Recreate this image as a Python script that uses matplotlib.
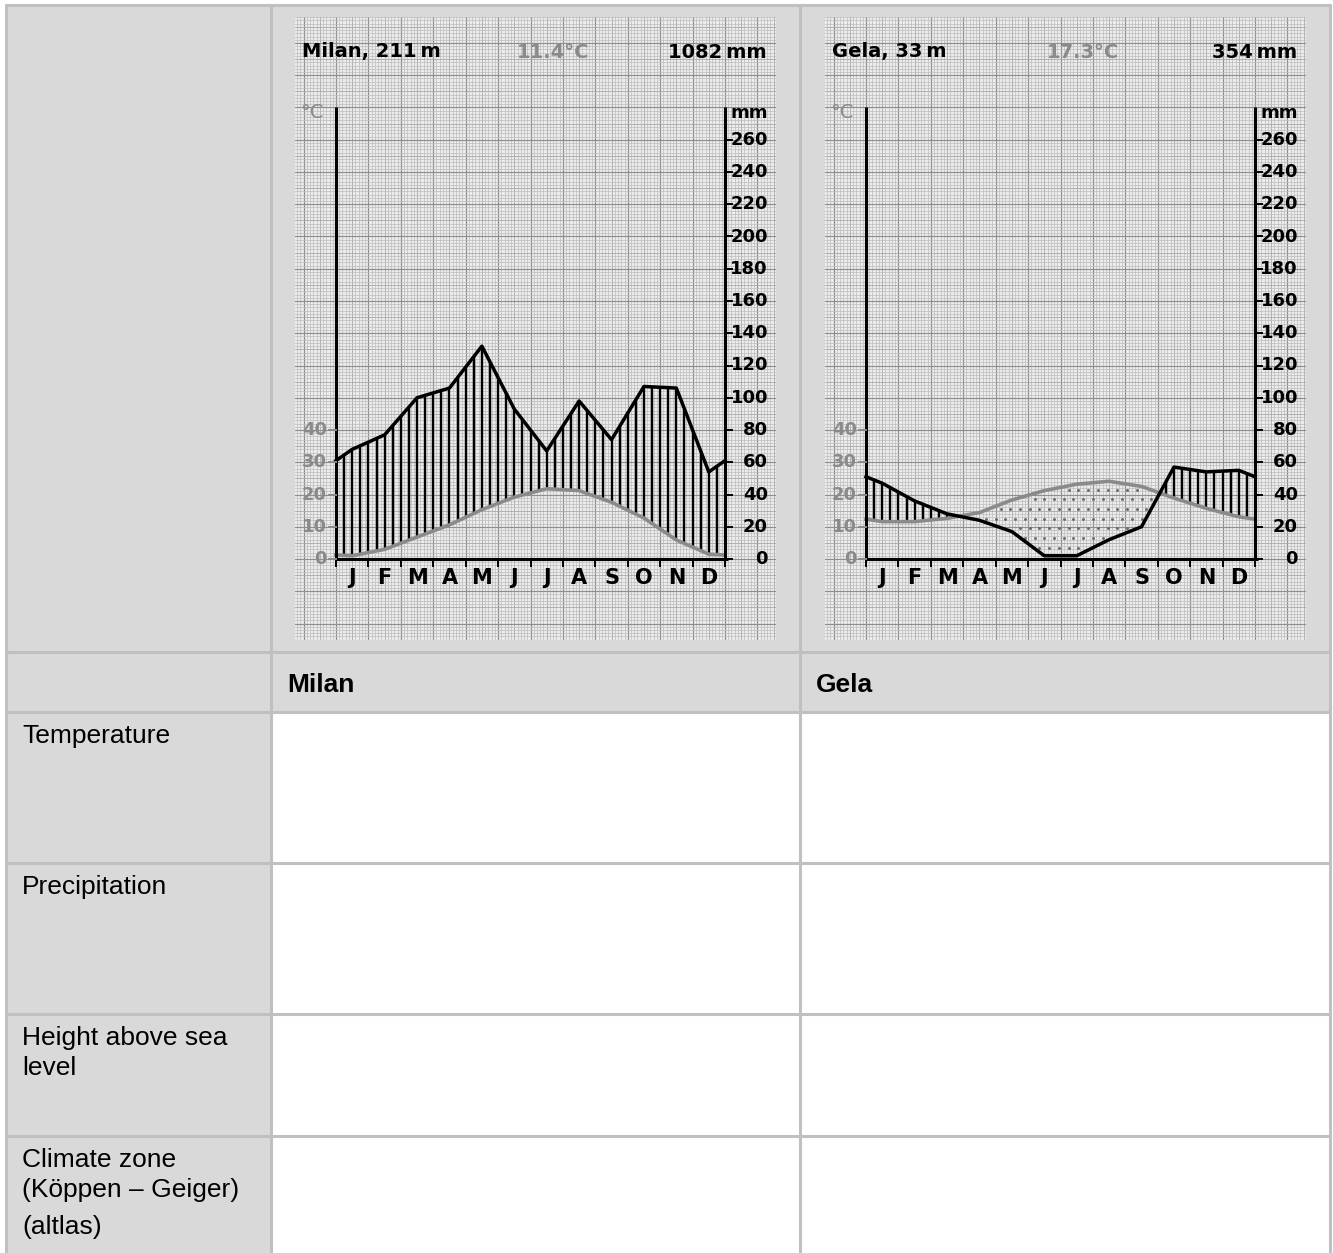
import numpy as np
import matplotlib
matplotlib.use("Agg")
import matplotlib.pyplot as plt
from matplotlib.patches import Rectangle

# figure size in pixels
W, H = 1333, 1253

# climate data
months = ["J", "F", "M", "A", "M", "J", "J", "A", "S", "O", "N", "D"]
milan_temp = [1.0, 3.0, 6.8, 10.6, 15.3, 19.2, 21.8, 21.2, 17.6, 12.7, 5.9, 1.5]
milan_prec = [68, 77, 100, 106, 132, 93, 67, 98, 74, 107, 106, 54]
gela_temp = [11.6, 11.6, 12.6, 14.4, 18.3, 21.2, 23.2, 24.1, 22.5, 18.9, 15.7, 13.1]
gela_prec = [47, 36, 28, 24, 17, 2, 2, 12, 20, 57, 54, 55]

station_titles = ["Milan, 211\u2009m", "Gela, 33\u2009m"]
station_temps = ["11.4\u00b0C", "17.3\u00b0C"]
station_precs = ["1082\u2009mm", "354\u2009mm"]

temp_ticks = [0, 10, 20, 30, 40]
prec_ticks = list(range(0, 261, 20))

col_names = ["Milan", "Gela"]
row_names = [["Temperature"], ["Precipitation"], ["Height above sea", "level"],
             ["Climate zone", "(K\u00f6ppen \u2013 Geiger)", "(altlas)"]]

# layout (pixels)
col_x = [6, 271, 800, 1330]
row_y = [5, 652, 712, 863, 1014, 1136]
GRAY = "#d9d9d9"
LINE = "#c0c0c0"
TGRAY = "#8a8a8a"

AX_LEFT = [336, 866]
MW = (725 - 336) / 12.0    # px per month
PPM = 1.6125               # px per mm
ZERO = 559
PAPER_TOP, PAPER_BOT = 17, 640

CHART_FONT = ["DejaVu Sans"]
TABLE_FONT = ["Liberation Sans", "DejaVu Sans"]

fig = plt.figure(figsize=(W / 100, H / 100), dpi=100)
fig.patch.set_facecolor("white")

# ---- table background ----
bg = fig.add_axes([0, 0, 1, 1])
bg.set_xlim(0, W)
bg.set_ylim(H, 0)
bg.axis("off")
bg.add_patch(Rectangle((col_x[0], row_y[0]), col_x[-1] - col_x[0], row_y[2] - row_y[0],
                       facecolor=GRAY, edgecolor="none"))
bg.add_patch(Rectangle((col_x[0], row_y[2]), col_x[1] - col_x[0], H - row_y[2] + 5,
                       facecolor=GRAY, edgecolor="none"))
for y in row_y:
    bg.plot([col_x[0] - 1, col_x[-1] + 1], [y, y], color=LINE, lw=2.2, solid_capstyle="butt")
for x in col_x:
    bg.plot([x, x], [row_y[0] - 1, H + 5], color=LINE, lw=2.2, solid_capstyle="butt")

for i, name in enumerate(col_names):
    bg.text(col_x[i + 1] + 16, 692, name, fontsize=19, fontweight="bold",
            family=TABLE_FONT, va="baseline", ha="left")

for r, lines in enumerate(row_names):
    base = row_y[r + 2] + 31
    for k, txt in enumerate(lines):
        yy = base + k * 30
        if k == 2:
            yy += 7
        bg.text(22, yy, txt, fontsize=19, family=TABLE_FONT, va="baseline", ha="left")


def cycle(vals):
    v = np.asarray(vals, float)
    edge = (v[0] + v[-1]) / 2
    x = np.concatenate([[0], np.arange(12) + 0.5, [12]])
    y = np.concatenate([[edge], v, [edge]])
    return x, y


def paper_style(k):
    if k % 10 == 0:
        return "#8e8e8e", 0.85
    if k % 5 == 0:
        return "#a8a8a8", 0.6
    return "#bcbcbc", 0.5


def draw_panel(ax_left, temp, prec, title, tmean, psum):
    p_left = ax_left - 41
    p_w = 481
    ax = fig.add_axes([p_left / W, 1 - PAPER_BOT / H, p_w / W, (PAPER_BOT - PAPER_TOP) / H])
    x0 = (p_left - ax_left) / MW
    x1 = (p_left + p_w - ax_left) / MW
    y0 = (ZERO - PAPER_BOT) / PPM
    y1 = (ZERO - PAPER_TOP) / PPM
    ax.set_xlim(x0, x1)
    ax.set_ylim(y0, y1)
    ax.set_facecolor("#ececec")
    for s in ax.spines.values():
        s.set_visible(False)
    ax.set_xticks([])
    ax.set_yticks([])

    # graph paper
    for k in range(int(np.ceil(x0 * 10)), int(np.floor(x1 * 10)) + 1):
        c, lw = paper_style(k)
        ax.axvline(k / 10, color=c, lw=lw, zorder=0.5)
    for k in range(int(np.ceil(y0 / 2)), int(np.floor(y1 / 2)) + 1):
        c, lw = paper_style(k)
        ax.axhline(k * 2, color=c, lw=lw, zorder=0.5)

    xt, yt = cycle(temp)
    yt = yt * 2
    xp, yp = cycle(prec)

    # vertical hatch where humid
    hx = np.arange(0.25, 12, 0.25)
    ht = np.interp(hx, xt, yt)
    hp = np.interp(hx, xp, yp)
    wet = hp > ht + 1
    ax.vlines(hx[wet], ht[wet], hp[wet], color="black", lw=1.7, zorder=2)

    # dots where arid
    dots_x, dots_y = [], []
    for j, yy in enumerate(np.arange(1, 60, 6.0)):
        off = 0.15 if j % 2 else 0.0
        for xx in np.arange(0.1 + off, 12, 0.3):
            tv = np.interp(xx, xt, yt)
            pv = np.interp(xx, xp, yp)
            if pv + 2 < yy < tv - 2:
                dots_x.append(xx)
                dots_y.append(yy)
    if dots_x:
        ax.scatter(dots_x, dots_y, s=4.5, color="#6a6a6a", linewidths=0, zorder=2)

    ax.plot(xt, yt, color=TGRAY, lw=2.6, zorder=3, solid_joinstyle="round")
    ax.plot(xp, yp, color="black", lw=2.5, zorder=4, solid_joinstyle="round")

    # axes frame
    top = 280
    ax.plot([0, 0], [0, top], color="black", lw=2.2, zorder=5, solid_capstyle="butt")
    ax.plot([12, 12], [0, top], color="black", lw=2.2, zorder=5, solid_capstyle="butt")
    ax.plot([0, 12.1], [0, 0], color="black", lw=2.2, zorder=5, solid_capstyle="butt")

    dash = 7 / MW
    for m in range(13):
        ax.plot([m, m], [0, -7 / PPM], color="black", lw=1.4, zorder=5)
    for i, m in enumerate(months):
        ax.text(i + 0.5, -19 / PPM, m, ha="center", va="center", fontsize=15,
                fontweight="bold", family=CHART_FONT)
    for v in prec_ticks:
        ax.plot([12, 12 + dash], [v, v], color="black", lw=1.4, zorder=5)
        ax.text(12 + 43 / MW, v, str(v), ha="right", va="center", fontsize=13,
                fontweight="bold", family=CHART_FONT)
    for v in temp_ticks:
        ax.plot([-dash, 0], [v * 2, v * 2], color=TGRAY, lw=1.4, zorder=5)
        ax.text(-9 / MW, v * 2, str(v), ha="right", va="center", fontsize=13,
                fontweight="bold", color=TGRAY, family=CHART_FONT)

    ax.text(-24 / MW, (ZERO - 112) / PPM, "\u00b0C", ha="center", va="center",
            fontsize=14, color=TGRAY, family=CHART_FONT)
    ax.text(12 + 43 / MW, (ZERO - 113) / PPM, "mm", ha="right", va="center",
            fontsize=13, fontweight="bold", family=CHART_FONT)

    ty = (ZERO - 52) / PPM
    ax.text(-34 / MW, ty, title, ha="left", va="center", fontsize=14,
            fontweight="bold", family=CHART_FONT)
    ax.text(217 / MW, ty, tmean, ha="center", va="center", fontsize=14,
            fontweight="bold", color=TGRAY, family=CHART_FONT)
    ax.text(12 + 42 / MW, ty, psum, ha="right", va="center", fontsize=14,
            fontweight="bold", family=CHART_FONT)


draw_panel(AX_LEFT[0], milan_temp, milan_prec, station_titles[0], station_temps[0], station_precs[0])
draw_panel(AX_LEFT[1], gela_temp, gela_prec, station_titles[1], station_temps[1], station_precs[1])

fig.savefig("out.png", dpi=100)
